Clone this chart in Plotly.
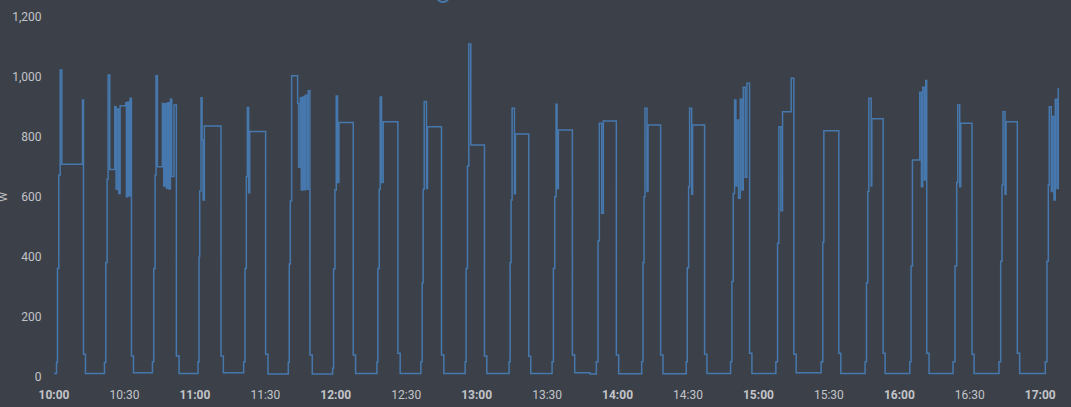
import plotly.graph_objects as go

DAY = "2024-01-01 "

# step points of the power series (time, watts)
times = [
    "10:00:00", "10:01:04", "10:01:29", "10:02:03", "10:02:38", "10:03:20", "10:12:08", "10:12:33", "10:13:24",
    "10:21:29", "10:22:03", "10:22:37", "10:23:03", "10:23:45", "10:25:53", "10:26:27", "10:26:53", "10:27:35",
    "10:28:09", "10:30:34", "10:30:51", "10:31:25", "10:31:50", "10:32:25", "10:32:59", "10:33:50",
    "10:41:55", "10:42:29", "10:43:03", "10:43:28", "10:44:02", "10:46:10", "10:46:44", "10:47:18", "10:47:52",
    "10:48:26", "10:49:00", "10:49:34", "10:50:08", "10:51:08", "10:52:07", "10:53:16",
    "11:01:21", "11:01:46", "11:02:03", "11:02:37", "11:03:03", "11:03:28", "11:04:02", "11:11:08", "11:12:07",
    "11:20:46", "11:21:21", "11:21:55", "11:22:20", "11:22:54", "11:23:20", "11:30:08", "11:31:08",
    "11:39:47", "11:40:12", "11:40:38", "11:41:12", "11:43:45", "11:44:10", "11:44:53", "11:45:19", "11:45:53",
    "11:46:27", "11:47:01", "11:47:43", "11:48:17", "11:49:00", "11:50:00",
    "11:58:39", "11:59:04", "11:59:38", "12:00:12", "12:00:46", "12:01:20", "12:07:26", "12:08:26",
    "12:17:31", "12:17:56", "12:18:30", "12:18:55", "12:19:29", "12:20:12", "12:26:27", "12:27:26",
    "12:36:14", "12:36:48", "12:37:13", "12:37:39", "12:38:38", "12:39:04", "12:45:01", "12:46:01",
    "12:55:06", "12:55:31", "12:56:05", "12:56:39", "12:57:30", "13:03:19", "13:04:19",
    "13:13:49", "13:14:14", "13:14:40", "13:15:05", "13:16:05", "13:16:30", "13:22:11", "13:23:02",
    "13:32:07", "13:32:41", "13:33:15", "13:33:49", "13:34:14", "13:34:48", "13:40:46", "13:41:45", "13:48:17",
    "13:50:58", "13:51:41", "13:52:15", "13:53:15", "13:53:57", "13:59:29", "14:00:29",
    "14:10:16", "14:10:50", "14:11:16", "14:11:41", "14:12:32", "14:12:58", "14:18:21", "14:19:21",
    "14:29:16", "14:29:42", "14:30:16", "14:30:41", "14:31:33", "14:31:58", "14:37:04", "14:38:04",
    "14:48:08", "14:48:42", "14:49:16", "14:49:50", "14:50:24", "14:50:50", "14:51:32", "14:52:15", "14:52:57",
    "14:53:31", "14:54:22", "14:55:05", "14:56:13", "14:57:13",
    "15:07:25", "15:08:08", "15:08:42", "15:09:33", "15:10:16", "15:13:57", "15:15:05", "15:16:04",
    "15:26:42", "15:27:25", "15:27:51", "15:34:14", "15:35:05",
    "15:45:26", "15:46:01", "15:46:34", "15:47:00", "15:48:00", "15:48:17", "15:53:06", "15:53:57",
    "16:04:26", "16:05:00", "16:05:35", "16:08:42", "16:09:24", "16:09:58", "16:10:41", "16:11:15", "16:11:41",
    "16:12:40",
    "16:22:53", "16:23:44", "16:24:26", "16:24:52", "16:25:43", "16:26:09", "16:30:58", "16:31:49",
    "16:42:27", "16:43:10", "16:43:44", "16:44:09", "16:45:00", "16:45:26", "16:50:15", "16:51:15",
    "17:02:10", "17:02:52", "17:03:27", "17:03:52", "17:04:43", "17:05:09", "17:05:51", "17:06:25", "17:07:07",
    "17:07:42", "17:08:00",
]
watts = [
    12, 48, 362, 673, 1023, 709, 923, 76, 12,
    48, 382, 659, 1007, 692, 901, 626, 893, 612,
    904, 914, 601, 917, 604, 929, 70, 14,
    51, 362, 673, 1004, 701, 912, 637, 911, 629,
    914, 627, 926, 668, 907, 70, 12,
    51, 400, 620, 931, 790, 590, 837, 70, 14,
    51, 362, 668, 898, 614, 818, 76, 10,
    49, 377, 587, 1004, 912, 699, 931, 623, 933,
    624, 939, 626, 954, 73, 10,
    29, 360, 623, 937, 648, 848, 73, 12,
    50, 362, 626, 933, 648, 851, 79, 12,
    51, 314, 626, 918, 628, 834, 73, 12,
    51, 362, 703, 1110, 773, 70, 12,
    51, 382, 590, 896, 611, 810, 69, 12,
    51, 362, 601, 909, 628, 823, 73, 14, 10,
    51, 453, 846, 546, 853, 73, 11,
    51, 382, 601, 896, 618, 840, 73, 11,
    51, 364, 634, 896, 609, 840, 76, 12,
    51, 318, 612, 923, 637, 857, 596, 926, 623,
    966, 666, 979, 79, 12,
    51, 446, 834, 554, 884, 996, 76, 14,
    51, 449, 821, 79, 12,
    51, 314, 618, 929, 637, 861, 79, 12,
    51, 370, 723, 949, 634, 966, 657, 988, 79,
    12,
    51, 370, 648, 907, 634, 846, 76, 12,
    51, 386, 640, 884, 609, 851, 79, 12,
    51, 386, 640, 901, 618, 868, 590, 926, 628,
    962, 962,
]

x_tick_times = ["10:00", "10:30", "11:00", "11:30", "12:00", "12:30", "13:00", "13:30",
                "14:00", "14:30", "15:00", "15:30", "16:00", "16:30", "17:00"]
y_ticks = [0, 200, 400, 600, 800, 1000, 1200]
x_start, x_end = "10:00:00", "17:08:00"
legend_name = "power"
y_unit = "W"

BG = "#3c4048"
LINE = "#4678ad"
TXT = "#c2c4c8"

fig = go.Figure()
fig.add_trace(go.Scatter(
    x=[DAY + t for t in times], y=watts, mode="lines", line_shape="hv",
    line=dict(color=LINE, width=1.5), name=legend_name, showlegend=False,
))

ticktext = [("<b>%s</b>" % t) if t.endswith(":00") else t for t in x_tick_times]

fig.update_layout(
    width=1071, height=407,
    margin=dict(l=54, r=12, t=17, b=30),
    paper_bgcolor=BG, plot_bgcolor=BG,
    font=dict(family="Roboto", size=12, color=TXT),
    xaxis=dict(
        range=[DAY + x_start, DAY + x_end],
        tickvals=[DAY + t for t in x_tick_times], ticktext=ticktext,
        showgrid=False, zeroline=False, showline=False,
        ticks="outside", ticklen=7, tickcolor=BG, automargin=False,
        tickfont=dict(family="Roboto", size=12, color=TXT),
    ),
    yaxis=dict(
        range=[0, 1200], tickvals=y_ticks, tickformat=",",
        showgrid=False, zeroline=False, showline=False,
        ticks="outside", ticklen=9, tickcolor=BG, automargin=False,
        tickfont=dict(family="Roboto", size=12, color=TXT),
    ),
)

# y unit label (partially cut at left edge)
fig.add_annotation(
    text=y_unit, textangle=-90, xref="paper", yref="paper",
    x=-0.051, y=0.5, xanchor="center", yanchor="middle",
    showarrow=False, font=dict(family="Roboto", size=11, color=TXT),
)
# legend fragment, mostly above the visible area
fig.add_shape(
    type="circle", xref="paper", yref="paper", xsizemode="pixel", ysizemode="pixel",
    xanchor=0.387, yanchor=1.058, x0=-6, x1=6, y0=-6, y1=6,
    line=dict(color=LINE, width=2), fillcolor="rgba(0,0,0,0)",
)
fig.add_annotation(
    text=legend_name, xref="paper", yref="paper", x=0.402, y=1.068,
    xanchor="left", yanchor="middle", showarrow=False,
    font=dict(family="Roboto", size=12, color=TXT),
)

fig.write_html(
    "out.html",
    config={"displayModeBar": False},
    post_script="document.body.style.margin='0';document.body.style.background='%s';" % BG,
)
